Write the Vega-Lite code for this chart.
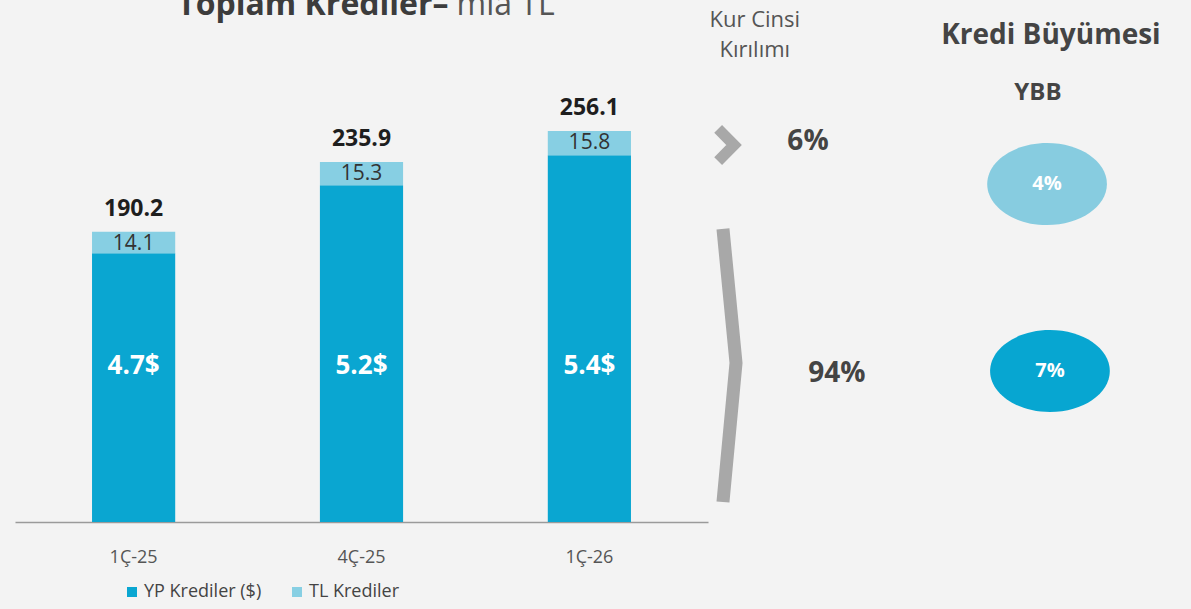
{
  "$schema": "https://vega.github.io/schema/vega-lite/v6.json",
  "background": "#f3f3f3",
  "padding": {"left": 15, "top": 0, "right": 0, "bottom": 10},
  "spacing": 0,
  "bounds": "flush",
  "config": {"view": {"stroke": null}, "font": "Open Sans"},
  "datasets": {
    "segments": [
      {"donem": "1Ç-25", "tur": "YP Krediler ($)", "deger": 176.1, "sira": 1},
      {"donem": "1Ç-25", "tur": "TL Krediler", "deger": 14.1, "sira": 2},
      {"donem": "4Ç-25", "tur": "YP Krediler ($)", "deger": 220.6, "sira": 1},
      {"donem": "4Ç-25", "tur": "TL Krediler", "deger": 15.3, "sira": 2},
      {"donem": "1Ç-26", "tur": "YP Krediler ($)", "deger": 240.3, "sira": 1},
      {"donem": "1Ç-26", "tur": "TL Krediler", "deger": 15.8, "sira": 2}
    ],
    "totals": [
      {"donem": "1Ç-25", "toplam": 190.2, "tl": 14.1, "usd": "4.7$"},
      {"donem": "4Ç-25", "toplam": 235.9, "tl": 15.3, "usd": "5.2$"},
      {"donem": "1Ç-26", "toplam": 256.1, "tl": 15.8, "usd": "5.4$"}
    ]
  },
  "hconcat": [
    {
      "width": 693,
      "height": 522,
      "layer": [
        {
          "data": {"name": "segments"},
          "mark": {"type": "bar"},
          "encoding": {
            "x": {"field": "donem", "type": "nominal", "sort": ["1Ç-25", "4Ç-25", "1Ç-26"],
              "scale": {"paddingInner": 0.635, "paddingOuter": 0.338},
              "axis": {"title": null, "domainColor": "#9a9a9a", "domainWidth": 1.5, "ticks": false, "labelPadding": 26, "labelFontSize": 18, "labelColor": "#555", "labelAngle": 0}},
            "y": {"field": "deger", "type": "quantitative", "stack": "zero", "scale": {"domain": [0, 342], "nice": false}, "axis": null},
            "color": {"field": "tur", "type": "nominal",
              "scale": {"domain": ["YP Krediler ($)", "TL Krediler"], "range": ["#0aa6d1", "#87cfe3"]},
              "legend": {"title": null, "orient": "none", "legendX": 108, "legendY": 583, "direction": "horizontal", "symbolType": "square", "symbolSize": 100, "labelFontSize": 18, "labelColor": "#444", "columnPadding": 26, "labelOffset": 3, "padding": 0}},
            "order": {"field": "sira", "type": "quantitative"}
          }
        },
        {
          "data": {"name": "totals"},
          "mark": {"type": "text", "baseline": "alphabetic", "dy": -16, "fontSize": 23, "fontWeight": "bold", "color": "#1e1e1e"},
          "encoding": {
            "x": {"field": "donem", "type": "nominal", "sort": ["1Ç-25", "4Ç-25", "1Ç-26"]},
            "y": {"field": "toplam", "type": "quantitative"},
            "text": {"field": "toplam", "type": "quantitative", "format": ".1f"}
          }
        },
        {
          "data": {"name": "totals"},
          "mark": {"type": "text", "baseline": "middle", "dy": 12, "fontSize": 21, "color": "#333"},
          "encoding": {
            "x": {"field": "donem", "type": "nominal", "sort": ["1Ç-25", "4Ç-25", "1Ç-26"]},
            "y": {"field": "toplam", "type": "quantitative"},
            "text": {"field": "tl", "type": "quantitative", "format": ".1f"}
          }
        },
        {
          "data": {"name": "totals"},
          "mark": {"type": "text", "baseline": "middle", "fontSize": 26, "fontWeight": "bold", "color": "#ffffff"},
          "encoding": {
            "x": {"field": "donem", "type": "nominal", "sort": ["1Ç-25", "4Ç-25", "1Ç-26"]},
            "y": {"datum": 102, "type": "quantitative"},
            "text": {"field": "usd", "type": "nominal"}
          }
        },
        {
          "data": {"values": [{"donem": "4Ç-25", "metin": "Toplam Krediler–"}]},
          "mark": {"type": "text", "align": "right", "baseline": "alphabetic", "dx": 87, "fontSize": 32, "fontWeight": "bold", "color": "#3c3c3c", "clip": true},
          "encoding": {
            "x": {"field": "donem", "type": "nominal", "sort": ["1Ç-25", "4Ç-25", "1Ç-26"]},
            "y": {"datum": 332, "type": "quantitative"},
            "text": {"field": "metin", "type": "nominal"}
          }
        },
        {
          "data": {"values": [{"donem": "4Ç-25", "metin": "mia TL"}]},
          "mark": {"type": "text", "align": "left", "baseline": "alphabetic", "dx": 95, "fontSize": 32, "color": "#555555", "clip": true},
          "encoding": {
            "x": {"field": "donem", "type": "nominal", "sort": ["1Ç-25", "4Ç-25", "1Ç-26"]},
            "y": {"datum": 332, "type": "quantitative"},
            "text": {"field": "metin", "type": "nominal"}
          }
        }
      ]
    },
    {
      "width": 483,
      "height": 522,
      "encoding": {
        "x": {"field": "x", "type": "quantitative", "scale": {"domain": [0, 100], "nice": false}, "axis": null},
        "y": {"field": "y", "type": "quantitative", "scale": {"domain": [0, 342], "nice": false}, "axis": null}
      },
      "layer": [
        {
          "data": {"values": [
            {"parca": "TL", "sira": 1, "x": 2.1, "y": 257.5},
            {"parca": "TL", "sira": 2, "x": 5.4, "y": 247.0},
            {"parca": "TL", "sira": 3, "x": 2.1, "y": 236.5},
            {"parca": "YP", "sira": 1, "x": 3.1, "y": 192.0},
            {"parca": "YP", "sira": 2, "x": 5.8, "y": 104.2},
            {"parca": "YP", "sira": 3, "x": 3.1, "y": 13.1}
          ]},
          "mark": {"type": "line", "color": "#a8a8a8", "strokeCap": "butt", "strokeJoin": "miter"},
          "encoding": {
            "detail": {"field": "parca", "type": "nominal"},
            "order": {"field": "sira", "type": "quantitative"},
            "strokeWidth": {"field": "parca", "type": "nominal", "scale": {"domain": ["TL", "YP"], "range": [11, 13]}, "legend": null}
          }
        },
        {
          "data": {"values": [
            {"x": 70.2, "y": 221.4, "kur": "TL"},
            {"x": 70.8, "y": 98.9, "kur": "YP"}
          ]},
          "mark": {"type": "point", "filled": true, "opacity": 1, "size": 6724, "shape": "M-1.46,0A1.46,1,0,1,1,1.46,0A1.46,1,0,1,1,-1.46,0Z"},
          "encoding": {
            "fill": {"field": "kur", "type": "nominal", "scale": {"domain": ["TL", "YP"], "range": ["#87cce0", "#07a6d1"]}, "legend": null}
          }
        },
        {
          "data": {"values": [
            {"x": 70.2, "y": 221.4, "metin": "4%"},
            {"x": 70.8, "y": 98.9, "metin": "7%"}
          ]},
          "mark": {"type": "text", "fontSize": 20, "fontWeight": "bold", "color": "#ffffff", "baseline": "middle"},
          "encoding": {"text": {"field": "metin", "type": "nominal"}}
        },
        {
          "data": {"values": [
            {"x": 20.7, "y": 249, "metin": "6%"},
            {"x": 26.7, "y": 97, "metin": "94%"}
          ]},
          "mark": {"type": "text", "fontSize": 28, "fontWeight": "bold", "color": "#444444", "baseline": "middle"},
          "encoding": {"text": {"field": "metin", "type": "nominal"}}
        },
        {
          "data": {"values": [{"x": 9.7, "y": 328.9, "metin": "Kur Cinsi\nKırılımı"}]},
          "mark": {"type": "text", "fontSize": 22, "color": "#555555", "baseline": "middle", "lineBreak": "\n", "lineHeight": 30},
          "encoding": {"text": {"field": "metin", "type": "nominal"}}
        },
        {
          "data": {"values": [{"x": 71.0, "y": 318.4, "metin": "Kredi Büyümesi"}]},
          "mark": {"type": "text", "fontSize": 28, "fontWeight": "bold", "color": "#444444", "baseline": "middle"},
          "encoding": {"text": {"field": "metin", "type": "nominal"}}
        },
        {
          "data": {"values": [{"x": 68.3, "y": 281, "metin": "YBB"}]},
          "mark": {"type": "text", "fontSize": 24, "fontWeight": "bold", "color": "#444444", "baseline": "middle"},
          "encoding": {"text": {"field": "metin", "type": "nominal"}}
        }
      ]
    }
  ]
}
